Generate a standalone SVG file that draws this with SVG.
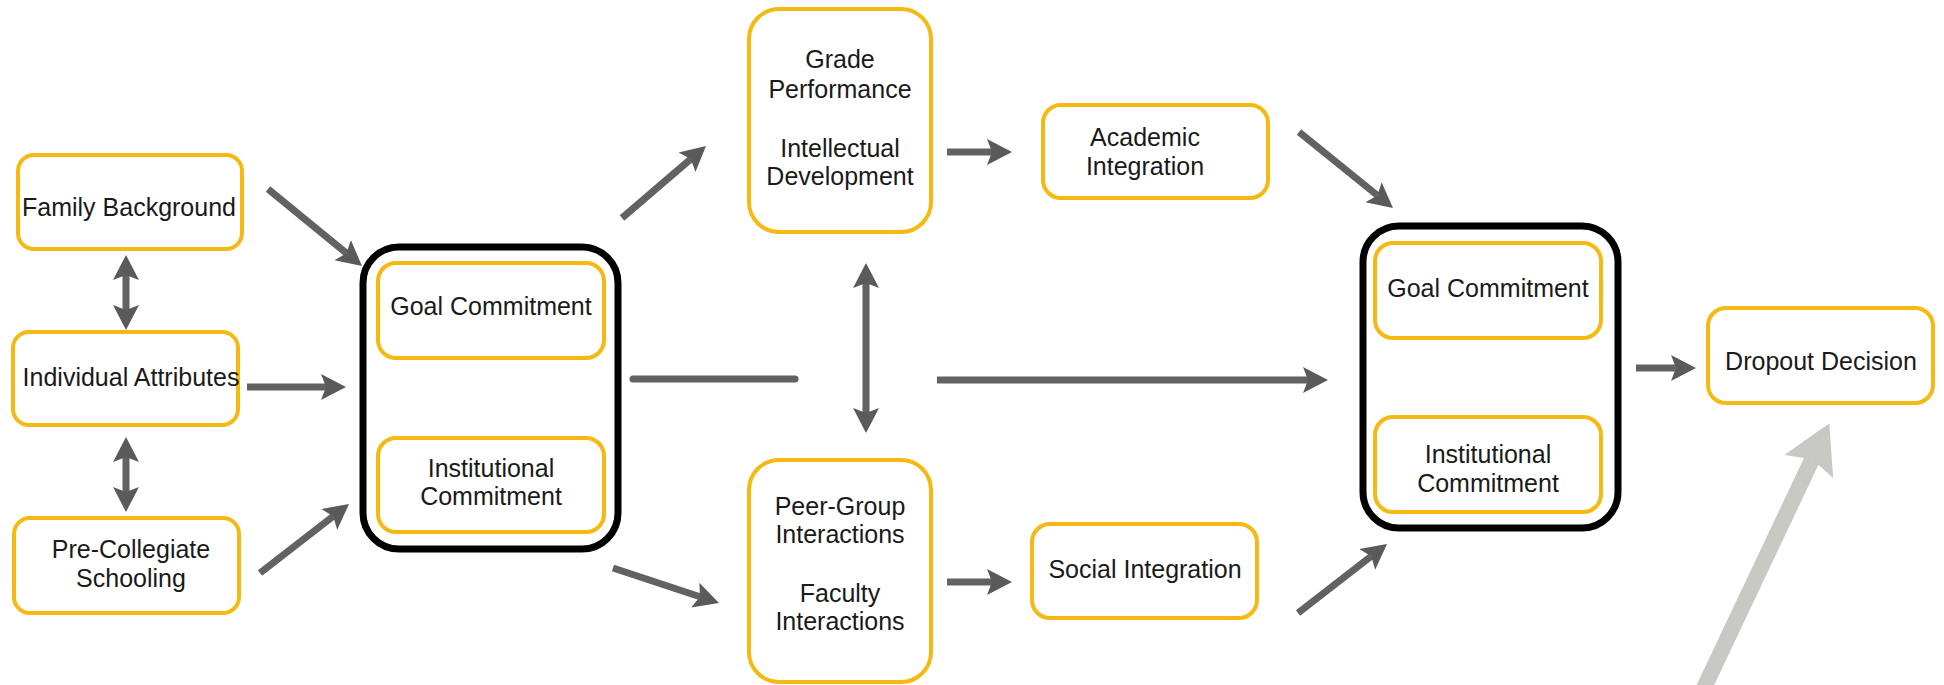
<svg xmlns="http://www.w3.org/2000/svg" width="1944" height="685" viewBox="0 0 1944 685">
<style>
.box{fill:#fff;stroke:#f5b914;stroke-width:4}
.grp{fill:none;stroke:#000;stroke-width:7}
.t{font-family:"Liberation Sans",Arial,sans-serif;font-size:25px;fill:#1a1a1a;text-anchor:middle}
.c{fill:none;stroke:#626262;stroke-width:7}
.cg{fill:none;stroke:#c8c9c5;stroke-width:16}
</style>
<defs>
<marker id="ah" markerUnits="userSpaceOnUse" viewBox="0 -14 26 28" markerWidth="26" markerHeight="28" refX="5" refY="0" orient="auto-start-reverse">
<path d="M0,-13 L25,0 L0,13 L5,0 z" fill="#5a5a5a"/>
</marker>
<marker id="ahg" markerUnits="userSpaceOnUse" viewBox="0 -28 49 56" markerWidth="49" markerHeight="56" refX="8" refY="0" orient="auto">
<path d="M0,-27 L48,0 L0,27 L8,0 z" fill="#c8c9c5"/>
</marker>
</defs>
<rect width="1944" height="685" fill="#fff"/>

<g id="connectors">
<line class="c" x1="268" y1="189" x2="346.5" y2="253.3" marker-end="url(#ah)"/>
<line class="c" x1="247" y1="387" x2="326" y2="387" marker-end="url(#ah)"/>
<line class="c" x1="260" y1="573" x2="333.2" y2="516.3" marker-end="url(#ah)"/>
<line class="c" x1="126" y1="275" x2="126" y2="310" marker-start="url(#ah)" marker-end="url(#ah)"/>
<line class="c" x1="126" y1="457" x2="126" y2="492" marker-start="url(#ah)" marker-end="url(#ah)"/>
<line class="c" x1="622" y1="218" x2="690.8" y2="159" marker-end="url(#ah)"/>
<line class="c" x1="613" y1="568" x2="700" y2="596.7" marker-end="url(#ah)"/>
<line class="c" x1="633" y1="379" x2="795" y2="379" stroke-linecap="round" stroke-width="6"/>
<line class="c" x1="937" y1="380" x2="1308" y2="380" stroke-width="6" marker-end="url(#ah)"/>
<line class="c" x1="866" y1="283" x2="866" y2="413" marker-start="url(#ah)" marker-end="url(#ah)"/>
<line class="c" x1="947" y1="152" x2="992" y2="152" marker-end="url(#ah)"/>
<line class="c" x1="947" y1="582" x2="992" y2="582" marker-end="url(#ah)"/>
<line class="c" x1="1299" y1="132" x2="1377.4" y2="195.4" marker-end="url(#ah)"/>
<line class="c" x1="1298" y1="613" x2="1371.2" y2="556.3" marker-end="url(#ah)"/>
<line class="c" x1="1636" y1="368" x2="1676" y2="368" marker-end="url(#ah)"/>
<line class="cg" x1="1703" y1="690" x2="1812.2" y2="459.3" marker-end="url(#ahg)"/>
</g>

<g id="family-background">
<rect class="box" x="18" y="155" width="224" height="94" rx="16"/>
<text class="t" x="129" y="216">Family Background</text>
</g>
<g id="individual-attributes">
<rect class="box" x="13" y="332" width="225" height="93" rx="16"/>
<text class="t" x="131" y="386">Individual Attributes</text>
</g>
<g id="pre-collegiate">
<rect class="box" x="14" y="518" width="225" height="95" rx="16"/>
<text class="t" x="131" y="558">Pre-Collegiate</text>
<text class="t" x="131" y="587">Schooling</text>
</g>

<g id="commitments-1">
<rect class="grp" x="363" y="247" width="255" height="302" rx="36"/>
<g id="goal-commitment-1">
<rect class="box" x="378" y="263" width="226" height="95" rx="18"/>
<text class="t" x="491" y="315">Goal Commitment</text>
</g>
<g id="institutional-commitment-1">
<rect class="box" x="378" y="438" width="226" height="94" rx="18"/>
<text class="t" x="491" y="477">Institutional</text>
<text class="t" x="491" y="505">Commitment</text>
</g>
</g>

<g id="grade-performance">
<rect class="box" x="749" y="9" width="182" height="223" rx="30"/>
<text class="t" x="840" y="68">Grade</text>
<text class="t" x="840" y="98">Performance</text>
<text class="t" x="840" y="157">Intellectual</text>
<text class="t" x="840" y="185">Development</text>
</g>
<g id="peer-group">
<rect class="box" x="749" y="460" width="182" height="222" rx="30"/>
<text class="t" x="840" y="515">Peer-Group</text>
<text class="t" x="840" y="543">Interactions</text>
<text class="t" x="840" y="602">Faculty</text>
<text class="t" x="840" y="630">Interactions</text>
</g>

<g id="academic-integration">
<rect class="box" x="1043" y="105" width="225" height="93" rx="18"/>
<text class="t" x="1145" y="146">Academic</text>
<text class="t" x="1145" y="175">Integration</text>
</g>
<g id="social-integration">
<rect class="box" x="1032" y="524" width="225" height="94" rx="18"/>
<text class="t" x="1145" y="578">Social Integration</text>
</g>

<g id="commitments-2">
<rect class="grp" x="1363" y="226" width="255" height="302" rx="36"/>
<g id="goal-commitment-2">
<rect class="box" x="1375" y="243" width="226" height="95" rx="18"/>
<text class="t" x="1488" y="297">Goal Commitment</text>
</g>
<g id="institutional-commitment-2">
<rect class="box" x="1375" y="417" width="226" height="95" rx="18"/>
<text class="t" x="1488" y="463">Institutional</text>
<text class="t" x="1488" y="492">Commitment</text>
</g>
</g>

<g id="dropout-decision">
<rect class="box" x="1708" y="308" width="225" height="95" rx="18"/>
<text class="t" x="1821" y="370">Dropout Decision</text>
</g>
</svg>
